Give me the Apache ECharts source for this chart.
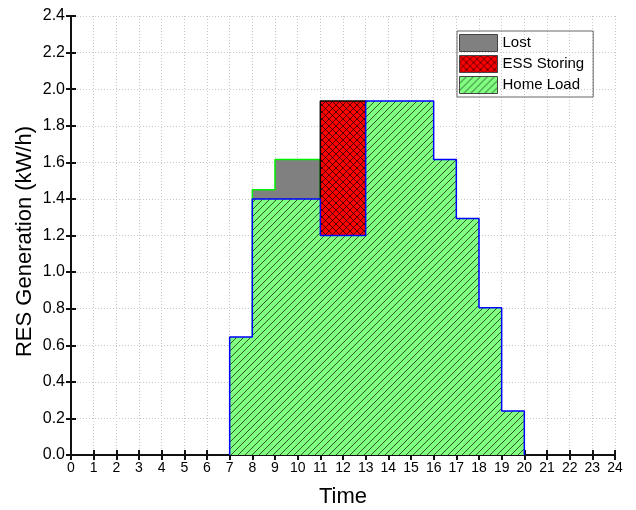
<!DOCTYPE html>
<html>
<head>
<meta charset="utf-8">
<script src="https://cdn.jsdelivr.net/npm/echarts@6/dist/echarts.min.js"></script>
<style>
  html, body { margin: 0; padding: 0; background: #fff; }
  #chart { width: 636px; height: 510px; }
</style>
</head>
<body>
<div id="chart"></div>
<script>
// hourly values, index = hour of day (0..23)
const hours = Array.from({ length: 24 }, (_, i) => i);
const homeLoad = [0, 0, 0, 0, 0, 0, 0, 0.645, 1.40, 1.40, 1.40, 1.20, 1.20, 1.935, 1.935, 1.935, 1.615, 1.293, 0.805, 0.241, 0, 0, 0, 0];
const essStoring = [0, 0, 0, 0, 0, 0, 0, 0, 0, 0, 0, 0.735, 0.735, 0, 0, 0, 0, 0, 0, 0, 0, 0, 0, 0];
const lost = [0, 0, 0, 0, 0, 0, 0, 0, 0.05, 0.215, 0.215, 0, 0, 0, 0, 0, 0, 0, 0, 0, 0, 0, 0, 0];

const font = 'Liberation Sans, Arial, sans-serif';

function hatch(bg, cross) {
  const c = document.createElement('canvas');
  c.width = 7; c.height = 7;
  const ctx = c.getContext('2d');
  ctx.fillStyle = bg;
  ctx.fillRect(0, 0, 7, 7);
  ctx.strokeStyle = 'rgba(0,0,0,0.65)';
  ctx.lineWidth = 1;
  ctx.beginPath();
  for (const o of [-7, 0, 7]) { ctx.moveTo(o, 7); ctx.lineTo(o + 7, 0); }
  if (cross) for (const o of [-7, 0, 7]) { ctx.moveTo(o, 0); ctx.lineTo(o + 7, 7); }
  ctx.stroke();
  return { image: c, repeat: 'repeat' };
}

// step outline over the hours where `vals` is non-zero; `base` stacks it
function stepPoints(vals, base) {
  const idx = hours.filter(h => vals[h] > 0);
  const first = idx[0], last = idx[idx.length - 1];
  const pts = [[first, 0]];
  for (let h = first; h <= last; h++) pts.push([h, vals[h] + (base ? base[h] : 0)]);
  pts.push([last + 1, 0]);
  return pts;
}

const greenFill = hatch('#80ff80', false);
const redFill = hatch('#ff0000', true);
const grayFill = '#808080';

const chart = echarts.init(document.getElementById('chart'));

const axisLine = { show: true, lineStyle: { color: '#111', width: 2 } };
const tick = { show: true, inside: true, length: 5, lineStyle: { color: '#111', width: 2 } };
const split = { show: true, lineStyle: { color: '#c8c8c8', type: [1, 2], width: 1 } };

chart.setOption({
  animation: false,
  backgroundColor: '#fff',
  grid: { left: 71, right: 21, top: 16, bottom: 55, outerBoundsMode: 'none' },
  legend: {
    orient: 'vertical',
    left: 457, top: 31,
    icon: 'rect',
    itemWidth: 38, itemHeight: 17, itemGap: 3,
    padding: [3, 9, 3, 2],
    borderColor: '#666', borderWidth: 1,
    textStyle: { fontFamily: font, fontSize: 15, color: '#000' },
    data: [
      { name: 'Lost', itemStyle: { color: grayFill, borderColor: '#444', borderWidth: 1 } },
      { name: 'ESS Storing', itemStyle: { color: redFill, borderColor: '#444', borderWidth: 1 } },
      { name: 'Home Load', itemStyle: { color: greenFill, borderColor: '#444', borderWidth: 1 } }
    ]
  },
  xAxis: [
    {
      type: 'value', min: 0, max: 24, interval: 1,
      name: 'Time', nameLocation: 'middle', nameGap: 31, nameMoveOverlap: false,
      nameTextStyle: { fontFamily: font, fontSize: 22, color: '#000' },
      axisLine, axisTick: tick, splitLine: split,
      axisLabel: { fontFamily: font, fontSize: 14, color: '#000', margin: 6 }
    },
    {
      type: 'value', position: 'top', min: 0, max: 24, interval: 1,
      axisLine, axisTick: tick, splitLine: { show: false }, axisLabel: { show: false }
    }
  ],
  yAxis: [
    {
      type: 'value', min: 0, max: 2.4, interval: 0.2,
      name: 'RES Generation (kW/h)', nameLocation: 'middle', nameGap: 35, nameMoveOverlap: false,
      nameTextStyle: { fontFamily: font, fontSize: 22, color: '#000', padding: [0, 12, 0, 0] },
      axisLine, axisTick: tick, splitLine: split,
      axisLabel: { fontFamily: font, fontSize: 16, color: '#000', margin: 6, formatter: v => v.toFixed(1) }
    },
    {
      type: 'value', position: 'right', min: 0, max: 2.4, interval: 0.2,
      axisLine, axisTick: tick, splitLine: { show: false }, axisLabel: { show: false }
    }
  ],
  series: [
    {
      name: 'Lost', type: 'line', step: 'end', symbol: 'none', z: 2,
      data: stepPoints(lost, homeLoad),
      lineStyle: { color: '#00ee00', width: 1.5 },
      itemStyle: { color: grayFill },
      areaStyle: { color: grayFill, opacity: 1 }
    },
    {
      name: 'ESS Storing', type: 'line', step: 'end', symbol: 'none', z: 3,
      data: stepPoints(essStoring, homeLoad),
      lineStyle: { color: '#000', width: 1.5 },
      itemStyle: { color: redFill },
      areaStyle: { color: redFill, opacity: 1 }
    },
    {
      name: 'Home Load', type: 'line', step: 'end', symbol: 'none', z: 4,
      data: stepPoints(homeLoad),
      lineStyle: { color: '#0000ff', width: 1.5 },
      itemStyle: { color: greenFill },
      areaStyle: { color: greenFill, opacity: 1 }
    }
  ]
});
</script>
</body>
</html>
